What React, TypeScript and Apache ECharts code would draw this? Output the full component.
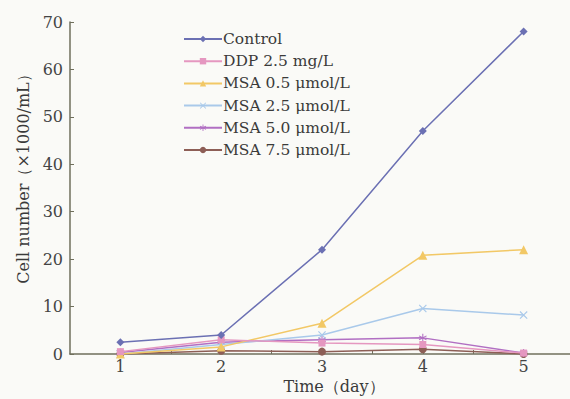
import React, { useEffect, useRef } from "react";
import * as echarts from "echarts";

const days = [1, 2, 3, 4, 5];
const seriesNames = [
  "Control",
  "DDP 2.5 mg/L",
  "MSA 0.5 μmol/L",
  "MSA 2.5 μmol/L",
  "MSA 5.0 μmol/L",
  "MSA 7.5 μmol/L",
];
const control = [2.5, 4, 22, 47, 68];
const ddp = [0.5, 3, 2.3, 2, 0.2];
const msa05 = [0, 1.5, 6.5, 20.8, 22];
const msa25 = [0, 2, 4, 9.6, 8.2];
const msa50 = [0.3, 2.5, 3, 3.4, 0.2];
const msa75 = [0, 0.7, 0.5, 1, 0];
const yTicks = [0, 10, 20, 30, 40, 50, 60, 70];

const colors = ["#6b70b3", "#e597c0", "#f2c866", "#a9c9ea", "#b16fc3", "#8d5e56"];
const symbols = [
  "diamond",
  "rect",
  "triangle",
  "path://M0,1L1,0L5,4L9,0L10,1L6,5L10,9L9,10L5,6L1,10L0,9L4,5Z",
  "path://M4.4,0H5.6V3.9L9,1.9L9.6,3L6.2,5L9.6,7L9,8.1L5.6,6.1V10H4.4V6.1L1,8.1L0.4,7L3.8,5L0.4,3L1,1.9L4.4,3.9Z",
  "circle",
];
const symbolSizes = [8, 7, 9, 8, 8, 8];
const allData = [control, ddp, msa05, msa25, msa50, msa75];

const FONT = "'DejaVu Serif', 'Liberation Serif', serif";

export default function App() {
  const ref = useRef<HTMLDivElement>(null);
  useEffect(() => {
    if (!ref.current) return;
    const chart = echarts.init(ref.current, undefined, { renderer: "svg" });
    chart.setOption({
      animation: false,
      backgroundColor: "#fafaf7",
      grid: { left: 70, top: 22, width: 504, bottom: 45, containLabel: false, outerBoundsMode: "none" },
      legend: {
        orient: "vertical",
        left: 178,
        top: 26,
        itemWidth: 38,
        itemHeight: 8,
        itemGap: 6.2,
        textStyle: { fontFamily: FONT, fontSize: 15.5, color: "#3a3a3a", padding: [0, 0, 0, -4] },
        data: seriesNames,
      },
      xAxis: {
        type: "value",
        min: 0.5,
        max: 5.5,
        interval: 0.5,
        name: "Time（day）",
        nameLocation: "middle",
        nameGap: 23,
        nameTextStyle: { fontFamily: FONT, fontSize: 16, color: "#3a3a3a", padding: [0, 0, 0, 24] },
        axisLine: { show: true, lineStyle: { color: "#6f6f5c", width: 1.5 } },
        axisTick: { show: true, inside: true, length: 4, lineStyle: { color: "#6f6f5c" } },
        axisLabel: {
          fontFamily: FONT,
          fontSize: 16,
          color: "#444",
          margin: 4,
          showMinLabel: false,
          showMaxLabel: false,
          formatter: (v: number) => (Number.isInteger(v) && days.includes(v) ? String(v) : ""),
        },
        splitLine: { show: false },
      },
      yAxis: {
        type: "value",
        min: yTicks[0],
        max: yTicks[yTicks.length - 1],
        interval: 10,
        name: "Cell number（×1000/mL）",
        nameLocation: "middle",
        nameGap: 34,
        nameTextStyle: { fontFamily: FONT, fontSize: 16, color: "#3a3a3a", padding: [0, 0, 0, 26] },
        axisLine: { show: true, lineStyle: { color: "#6f6f5c", width: 1.5 } },
        axisTick: { show: true, inside: true, length: 4, lineStyle: { color: "#6f6f5c" } },
        axisLabel: { fontFamily: FONT, fontSize: 16, color: "#444", margin: 7 },
        splitLine: { show: false },
      },
      series: seriesNames.map((name, i) => ({
        name,
        type: "line",
        data: days.map((d, j) => [d, allData[i][j]]),
        symbol: symbols[i],
        symbolSize: symbolSizes[i],
        showAllSymbol: true,
        lineStyle: { color: colors[i], width: 1.5 },
        itemStyle: { color: colors[i] },
        z: 10 - i,
      })),
    });
    return () => chart.dispose();
  }, []);
  return <div ref={ref} style={{ width: 570, height: 399, position: "absolute", left: 0, top: 0 }} />;
}
